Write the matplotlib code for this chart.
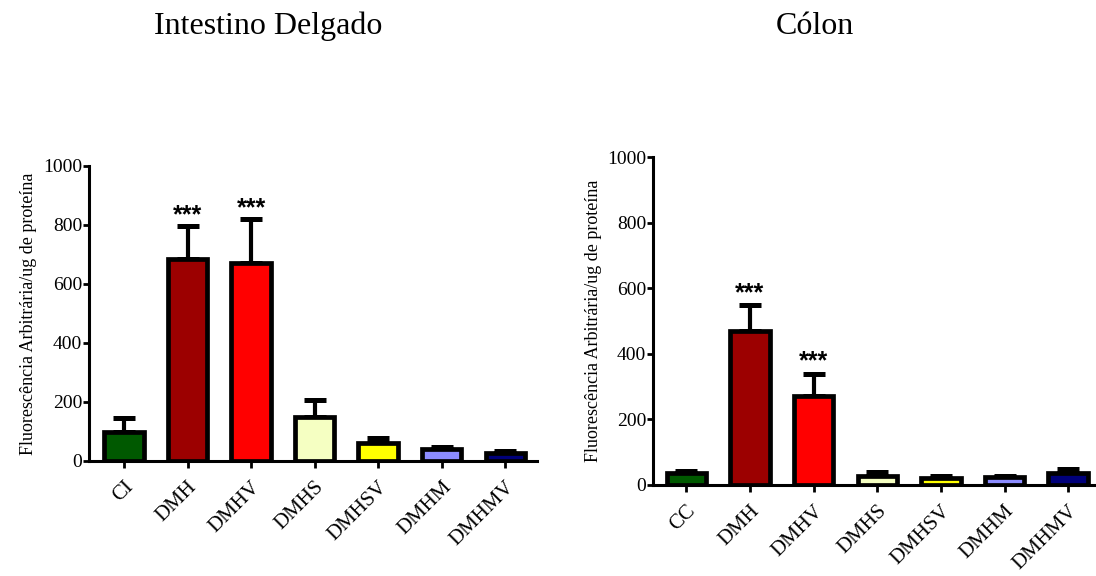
import matplotlib
matplotlib.use("Agg")
import matplotlib.pyplot as plt
import numpy as np

plt.rcParams['font.family'] = ['Liberation Serif', 'DejaVu Serif']

# intestino delgado
groups_id = ['CI', 'DMH', 'DMHV', 'DMHS', 'DMHSV', 'DMHM', 'DMHMV']
mean_id = [97, 684, 671, 148, 61, 40, 27]
sem_id = [49, 113, 149, 57, 16, 9, 6]
stars_id = ['', '***', '***', '', '', '', '']

# colon
groups_c = ['CC', 'DMH', 'DMHV', 'DMHS', 'DMHSV', 'DMHM', 'DMHMV']
mean_c = [36, 471, 271, 27, 21, 24, 36]
sem_c = [6, 77, 69, 14, 5, 4, 13]
stars_c = ['', '***', '***', '', '', '', '']

colors = ['#005900', '#9c0000', '#ff0000', '#f5ffc2', '#ffff00', '#8c8cff', '#00007a']


def draw(ax, groups, means, errs, stars, xlim):
    x = np.arange(len(groups))
    ax.bar(x, means, width=0.62, color=colors, edgecolor='black',
           linewidth=3.4, zorder=3)
    ax.errorbar(x, means, yerr=[np.zeros(len(errs)), errs], fmt='none',
                ecolor='black', elinewidth=3, capsize=8, capthick=3.6, zorder=2)
    for xi, m, e, s in zip(x, means, errs, stars):
        if s:
            ax.text(xi, m + e + 36, s, ha='center', va='center',
                    fontsize=18, fontweight='bold', family='Liberation Sans')
    ax.set_xlim(*xlim)
    ax.set_ylim(0, 1000)
    ax.set_yticks([0, 200, 400, 600, 800, 1000])
    ax.set_xticks(x)
    ax.set_xticklabels(groups, rotation=45, ha='right', rotation_mode='anchor',
                       fontsize=15)
    ax.tick_params(axis='y', labelsize=14, length=4, width=2, pad=1)
    ax.tick_params(axis='x', length=5, width=2, pad=7)
    for side in ['top', 'right']:
        ax.spines[side].set_visible(False)
    for side in ['left', 'bottom']:
        ax.spines[side].set_linewidth(2.2)
    ax.set_ylabel('Fluorescência Arbitrária/ug de proteína', fontsize=13,
                  labelpad=4)


fig = plt.figure(figsize=(10.96, 5.76), dpi=100)
ax1 = fig.add_axes([0.0812, 0.1997, 0.4088, 0.5123])
ax2 = fig.add_axes([0.596, 0.158, 0.403, 0.569])

draw(ax1, groups_id, mean_id, sem_id, stars_id, (-0.55, 6.5))
draw(ax2, groups_c, mean_c, sem_c, stars_c, (-0.52, 6.42))

fig.text(268 / 1096, 1 - 26 / 576, 'Intestino Delgado', ha='center',
         va='center', fontsize=23)
fig.text(815 / 1096, 1 - 26 / 576, 'Cólon', ha='center', va='center',
         fontsize=23)

fig.savefig('out.png', dpi=100)
